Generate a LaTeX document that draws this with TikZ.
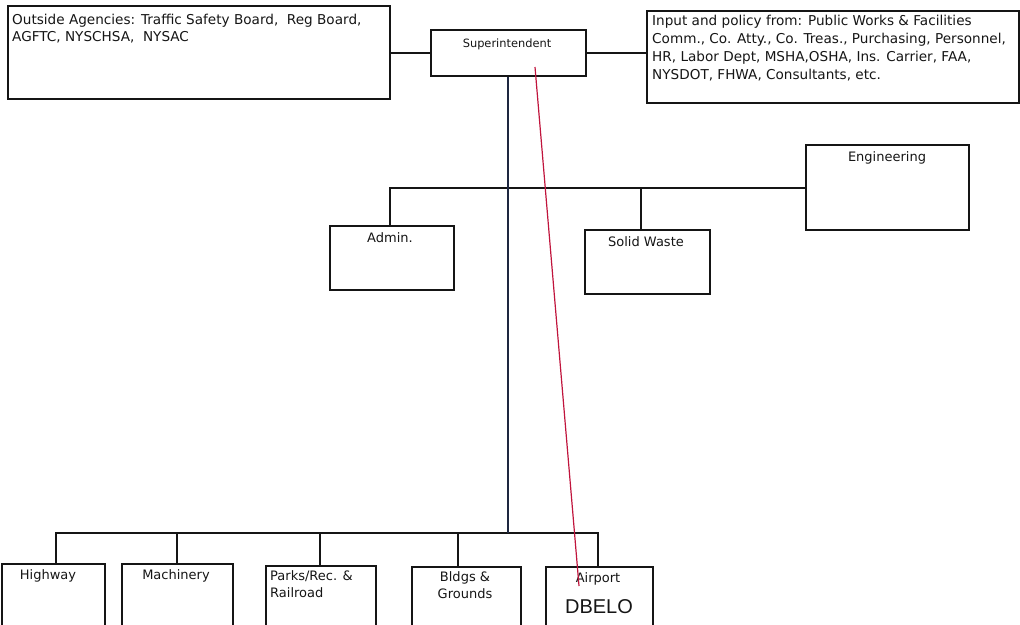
\documentclass[tikz,border=0pt]{standalone}
\usepackage{fontspec}
\setmainfont{DejaVu Sans}
\newfontfamily\arialfont{Liberation Sans}
\definecolor{ink}{HTML}{151515}
\definecolor{navy}{HTML}{1E2740}
\definecolor{redline}{HTML}{C0143C}
\begin{document}
\begin{tikzpicture}[x=1pt,y=-1pt,
  box/.style={draw=ink, line width=1.5pt, inner sep=0pt, anchor=north west},
  conn/.style={line width=1.6pt, draw=ink},
  trunk/.style={line width=1.6pt, draw=navy},
  redconn/.style={line width=1.2pt, draw=redline},
  lbl/.style={inner sep=0pt, text=ink, font=\fontsize{13}{17}\selectfont},
  lblsmall/.style={inner sep=0pt, text=ink, font=\fontsize{11.4}{14}\selectfont},
  lblwide/.style={inner sep=0pt, text=ink, font=\fontsize{13.6}{18}\selectfont},
  big/.style={inner sep=0pt, text=ink, font=\arialfont\fontsize{20}{24}\selectfont}
]
\useasboundingbox (0,0) rectangle (1020,624);
\clip (0,0) rectangle (1020,624);

% boxes
\node[box, minimum width=382pt, minimum height=93pt] (outside) at (7,5) {};
\node[box, minimum width=155pt, minimum height=46pt] (sup) at (430,29) {};
\node[box, minimum width=372pt, minimum height=92pt] (input) at (646,10) {};
\node[box, minimum width=163pt, minimum height=85pt] (eng) at (805,144) {};
\node[box, minimum width=124pt, minimum height=64pt] (admin) at (329,225) {};
\node[box, minimum width=125pt, minimum height=64pt] (solid) at (584,229) {};
\node[box, minimum width=103pt, minimum height=70pt] (hwy) at (1,563) {};
\node[box, minimum width=111pt, minimum height=70pt] (mach) at (121,563) {};
\node[box, minimum width=110pt, minimum height=70pt] (parks) at (265,565) {};
\node[box, minimum width=109pt, minimum height=70pt] (bldg) at (411,566) {};
\node[box, minimum width=107pt, minimum height=70pt] (air) at (545,566) {};

% labels
\node[lblwide, anchor=north west, align=left, font=\fontsize{13.6}{17}\selectfont] (toutside) at (12,14)
  {Outside Agencies: Traffic Safety Board,\ \ Reg Board,\\AGFTC, NYSCHSA,\ \ NYSAC};
\node[lblwide, anchor=north west, align=left] (tinput) at (652,15)
  {Input and policy from: Public Works \& Facilities\\Comm., Co. Atty., Co. Treas., Purchasing, Personnel,\\HR, Labor Dept, MSHA,OSHA, Ins. Carrier, FAA,\\NYSDOT, FHWA, Consultants, etc.};
\node[lblsmall, anchor=base] (tsup) at (507,47) {Superintendent};
\node[lbl, anchor=base] (teng) at (887,161) {Engineering};
\node[lbl, anchor=base] (tadmin) at (390,242) {Admin.};
\node[lbl, anchor=base] (tsolid) at (646,246) {Solid Waste};
\node[lbl, anchor=base] (thwy) at (48,579) {Highway};
\node[lbl, anchor=base] (tmach) at (176,579) {Machinery};
\node[lbl, anchor=north west, align=left] (tparks) at (270,570) {Parks/Rec. \&\\Railroad};
\node[lbl, anchor=north, align=center] (tbldg) at (465,571) {Bldgs \&\\Grounds};
\node[lbl, anchor=base] (tair) at (598,582) {Airport};
\node[big, anchor=base] (tdbelo) at (599,613) {DBELO};

% bus coordinates
\coordinate (busM) at (507,188);
\coordinate (busB) at (507,533);

% top connectors
\draw[conn] (outside.east |- sup.west) -- (sup.west);
\draw[conn] (sup.east) -- (sup.east -| input.west);

% middle bus
\draw[conn] (eng.west |- busM) -- ([xshift=-2pt]admin.north |- busM) -- ([xshift=-2pt]admin.north);
\draw[conn] ([xshift=-6.5pt]solid.north |- busM) -- ([xshift=-6.5pt]solid.north);

% bottom bus
\draw[conn] ([xshift=2.5pt]hwy.north) -- ([xshift=2.5pt]hwy.north |- busB)
  -- ([xshift=-1.5pt]air.north |- busB) -- ([xshift=-1.5pt]air.north);
\draw[conn] (mach.north) -- (mach.north |- busB);
\draw[conn] ([xshift=-1pt]parks.north) -- ([xshift=-1pt]parks.north |- busB);
\draw[conn] ([xshift=-8.5pt]bldg.north) -- ([xshift=-8.5pt]bldg.north |- busB);

% trunk
\draw[trunk] (sup.south) -- (sup.south |- busB);

% red line
\coordinate (r1) at (535,67);
\coordinate (r2) at (579,586);
\draw[redconn] (r1) -- (r2);
\end{tikzpicture}
\end{document}
